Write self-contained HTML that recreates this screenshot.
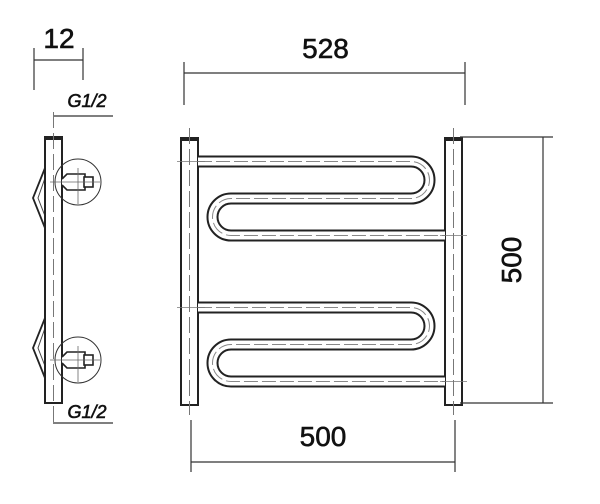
<!DOCTYPE html>
<html><head><style>
body{margin:0;background:#fff}
svg{display:block}
text{font-family:"Liberation Sans",sans-serif;fill:#111;stroke:#111;stroke-width:0.6}
</style></head><body>
<svg width="600" height="504" viewBox="0 0 600 504" xmlns="http://www.w3.org/2000/svg">
<defs>
<g id="serp">
<path d="M198 161.5 H411 A18.5 18.5 0 0 1 411 198.5 H231 A18.5 18.5 0 0 0 231 235.5 H445" fill="none" stroke="#222" stroke-width="12"/>
<path d="M198 161.5 H411 A18.5 18.5 0 0 1 411 198.5 H231 A18.5 18.5 0 0 0 231 235.5 H445" fill="none" stroke="#fff" stroke-width="8"/>
<path d="M198 161.5 H411 A18.5 18.5 0 0 1 411 198.5 H231 A18.5 18.5 0 0 0 231 235.5 H445" fill="none" stroke="#888" stroke-width="1" stroke-dasharray="14,4"/>
</g>
<g id="fit">
<circle cx="78" cy="0" r="23" fill="none" stroke="#333" stroke-width="1"/>
<path d="M62 -3 L67 -8 H85 V8 H67 L62 3" fill="#fff" stroke="#222" stroke-width="1.6"/>
<rect x="84" y="-5" width="9" height="10" fill="#fff" stroke="#222" stroke-width="1.6"/>
<line x1="50" y1="0" x2="100" y2="0" stroke="#666" stroke-width="0.8"/>
<line x1="78" y1="-14" x2="78" y2="22" stroke="#666" stroke-width="0.8"/>
</g>
<g id="brk">
<path d="M45 168 L33 198 L45 228" fill="none" stroke="#222" stroke-width="1.8"/>
<path d="M45 178 L38 198 L45 216" fill="none" stroke="#444" stroke-width="1"/>
</g>
</defs>
<rect x="181" y="138" width="17" height="267" fill="#fff" stroke="#222" stroke-width="2"/>
<rect x="445" y="138" width="17" height="267" fill="#fff" stroke="#222" stroke-width="2"/>
<rect x="182" y="138" width="15" height="3" fill="#222"/>
<rect x="446" y="138" width="15" height="3" fill="#222"/>
<line x1="189.5" y1="128" x2="189.5" y2="415" stroke="#777" stroke-width="1" stroke-dasharray="16,5"/>
<line x1="453.5" y1="128" x2="453.5" y2="415" stroke="#777" stroke-width="1" stroke-dasharray="16,5"/>
<use href="#serp"/>
<use href="#serp" transform="translate(0,146)"/>
<g stroke="#777" stroke-width="0.8">
<line x1="177" y1="161.5" x2="205" y2="161.5"/><line x1="440" y1="235.5" x2="467" y2="235.5"/>
<line x1="177" y1="307.5" x2="205" y2="307.5"/><line x1="440" y1="381.5" x2="467" y2="381.5"/>
</g>
<g stroke="#333" stroke-width="1.2" fill="none">
<line x1="184" y1="62" x2="184" y2="105"/><line x1="465" y1="62" x2="465" y2="105"/><line x1="184" y1="73" x2="465" y2="73"/>
<line x1="191" y1="420" x2="191" y2="472"/><line x1="455" y1="420" x2="455" y2="472"/><line x1="191" y1="462" x2="455" y2="462"/>
<line x1="460" y1="137" x2="553" y2="137"/><line x1="460" y1="403" x2="553" y2="403"/><line x1="543" y1="137" x2="543" y2="403"/>
<line x1="34" y1="48" x2="34" y2="90"/><line x1="83" y1="48" x2="83" y2="80"/><line x1="34" y1="60" x2="83" y2="60"/>
<line x1="53" y1="116" x2="113" y2="116"/><line x1="53" y1="423" x2="113" y2="423"/>
</g>
<text x="325.5" y="58" font-size="28" text-anchor="middle">528</text>
<text x="323" y="446" font-size="28" text-anchor="middle">500</text>
<text transform="translate(521,260) rotate(-90)" font-size="28" text-anchor="middle">500</text>
<text x="59" y="48" font-size="28" text-anchor="middle">12</text>
<text x="87" y="107" font-size="18" text-anchor="middle" font-style="italic" stroke-width="0.3">G1/2</text>
<text x="87" y="418" font-size="18" text-anchor="middle" font-style="italic" stroke-width="0.3">G1/2</text>
<use href="#brk"/>
<use href="#brk" transform="translate(0,150)"/>
<rect x="45" y="137" width="17" height="266" fill="#fff" stroke="#222" stroke-width="2"/>
<rect x="46" y="137" width="15" height="3" fill="#222"/>
<line x1="53.5" y1="112" x2="53.5" y2="425" stroke="#777" stroke-width="1" stroke-dasharray="16,5"/>
<use href="#fit" transform="translate(0,182)"/>
<use href="#fit" transform="translate(0,360)"/>
</svg>
</body></html>
